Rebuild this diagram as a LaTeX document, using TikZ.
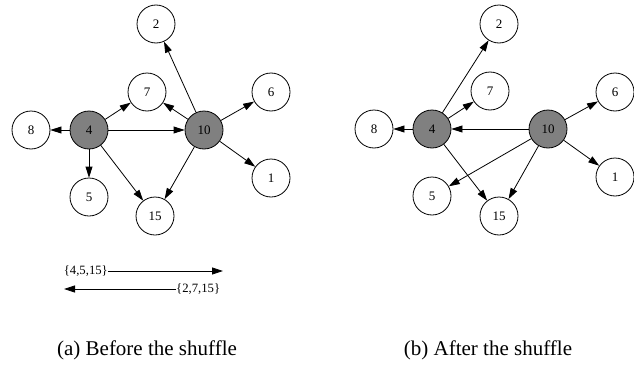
\documentclass[tikz,border=0pt]{standalone}
\usepackage{fontspec}
\setmainfont{Liberation Serif}
\usetikzlibrary{arrows.meta}
\begin{document}
\begin{tikzpicture}[x=1pt,y=-1pt,
  vtx/.style={circle,draw,line width=0.8pt,minimum size=38pt,inner sep=0pt,font=\fontsize{13}{13}\selectfont},
  hub/.style={vtx,fill=black!50},
  edge/.style={line width=0.8pt,-{Triangle[length=11pt,width=7pt]}},
  lab/.style={inner sep=0pt,font=\fontsize{12.7}{13}\selectfont},
  captxt/.style={inner sep=0pt,font=\fontsize{21}{22}\selectfont}]
\useasboundingbox[fill=white] (0,0) rectangle (634,364);
% (a) before
\node[vtx] (a2) at (156,24) {2};
\node[vtx] (a7) at (147,92) {7};
\node[vtx] (a6) at (271,92) {6};
\node[vtx] (a8) at (31,130) {8};
\node[hub] (a4) at (89,130) {4};
\node[hub] (a10) at (204,130) {10};
\node[vtx] (a1) at (271,178) {1};
\node[vtx] (a5) at (89,197) {5};
\node[vtx] (a15) at (155,216) {15};
\draw[edge] (a4) -- (a8);
\draw[edge] (a4) -- (a7);
\draw[edge] (a4) -- (a10);
\draw[edge] (a4) -- (a5);
\draw[edge] (a4) -- (a15);
\draw[edge] (a10) -- (a2);
\draw[edge] (a10) -- (a7);
\draw[edge] (a10) -- (a6);
\draw[edge] (a10) -- (a1);
\draw[edge] (a10) -- (a15);
\node[lab,anchor=east] (s1) at (108,271) {\{4,5,15\}};
\coordinate (e1) at (223,271);
\draw[edge] (s1.east) -- (e1);
\node[lab,anchor=west] (s2) at (176,289) {\{2,7,15\}};
\coordinate (e2) at (64,289);
\draw[edge] (s2.west) -- (e2);
% (b) after
\node[vtx] (b2) at (499,24) {2};
\node[vtx] (b7) at (490,91) {7};
\node[vtx] (b6) at (615,92) {6};
\node[vtx] (b8) at (374,129) {8};
\node[hub] (b4) at (432,129) {4};
\node[hub] (b10) at (548,129) {10};
\node[vtx] (b1) at (615,177) {1};
\node[vtx] (b5) at (432,196) {5};
\node[vtx] (b15) at (499,216) {15};
\draw[edge] (b4) -- (b8);
\draw[edge] (b4) -- (b2);
\draw[edge] (b4) -- (b7);
\draw[edge] (b4) -- (b15);
\draw[edge] (b10) -- (b4);
\draw[edge] (b10) -- (b5);
\draw[edge] (b10) -- (b15);
\draw[edge] (b10) -- (b6);
\draw[edge] (b10) -- (b1);
% captions
\node[captxt,anchor=base] (ca) at (147,355) {(a) Before the shuffle};
\node[captxt,anchor=base] (cb) at (488,355) {(b) After the shuffle};
\end{tikzpicture}
\end{document}
